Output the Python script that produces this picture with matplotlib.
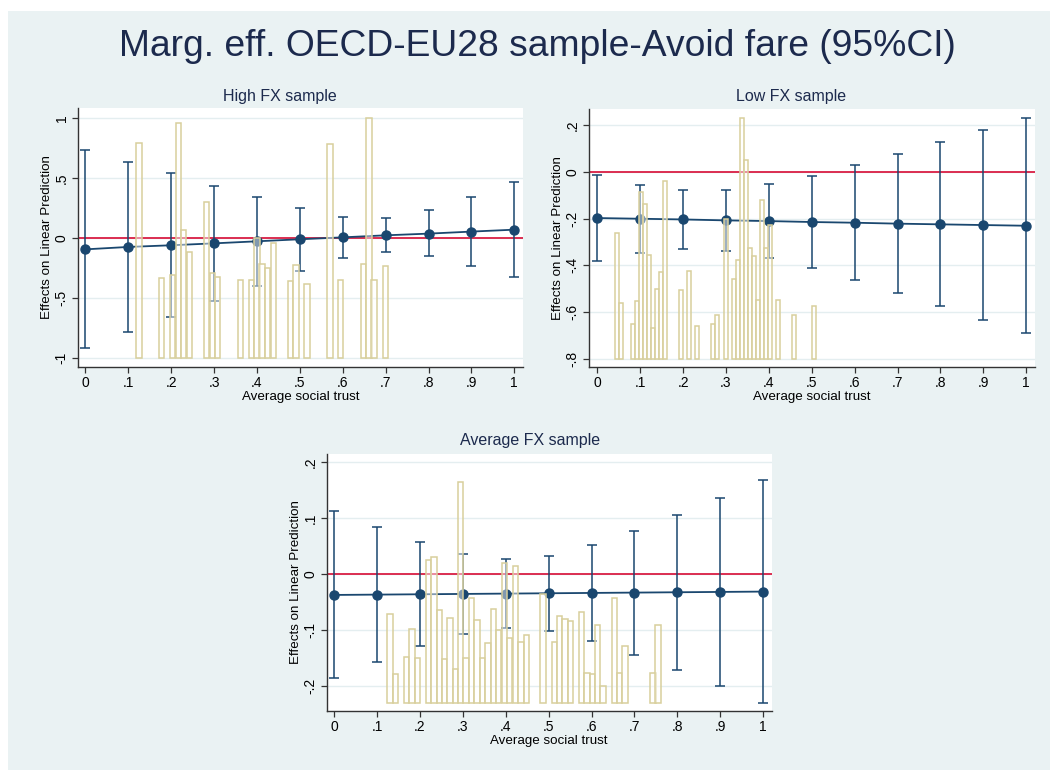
import matplotlib
matplotlib.use("Agg")
import matplotlib.pyplot as plt
import numpy as np
from matplotlib.patches import Rectangle

# ==========================================
# data
# ==========================================
trust = [0, .1, .2, .3, .4, .5, .6, .7, .8, .9, 1]
xtick_labels = ["0", ".1", ".2", ".3", ".4", ".5", ".6", ".7", ".8", ".9", "1"]

# High FX sample
high_est = [-0.092, -0.072, -0.058, -0.042, -0.025, -0.008, 0.008, 0.025, 0.039, 0.056, 0.072]
high_lo = [-0.917, -0.783, -0.653, -0.522, -0.394, -0.272, -0.167, -0.117, -0.150, -0.231, -0.322]
high_hi = [0.739, 0.639, 0.542, 0.439, 0.344, 0.256, 0.181, 0.167, 0.233, 0.344, 0.469]
high_hist_x = [0.125, 0.178, 0.203, 0.2166, 0.229, 0.242, 0.282, 0.296, 0.308, 0.361, 0.387,
               0.400, 0.412, 0.425, 0.439, 0.478, 0.491, 0.517, 0.570, 0.595, 0.649, 0.661,
               0.673, 0.700]
high_hist_top = [0.797, -0.328, -0.306, 0.958, 0.072, -0.114, 0.303, -0.292, -0.325, -0.345,
                 -0.345, 0.005, -0.210, -0.245, -0.039, -0.353, -0.222, -0.381, 0.786, -0.347,
                 -0.217, 1.0, -0.350, -0.228]
high_yticks = [-1, -.5, 0, .5, 1]
high_ylabels = ["-1", "-.5", "0", ".5", "1"]

# Low FX sample
low_est = [-0.197, -0.200, -0.203, -0.207, -0.210, -0.214, -0.217, -0.221, -0.224, -0.227, -0.230]
low_lo = [-0.380, -0.347, -0.329, -0.337, -0.367, -0.411, -0.463, -0.517, -0.574, -0.633, -0.691]
low_hi = [-0.013, -0.054, -0.077, -0.076, -0.053, -0.016, 0.030, 0.079, 0.127, 0.179, 0.231]
low_hist_x = [0.0467, 0.0545, 0.0836, 0.0925, 0.1019, 0.111, 0.1205, 0.1299, 0.1392, 0.1485,
              0.158, 0.196, 0.2145, 0.233, 0.270, 0.2798, 0.2996, 0.319, 0.328, 0.3373,
              0.3466, 0.356, 0.3653, 0.3746, 0.384, 0.3933, 0.4025, 0.4208, 0.459, 0.5055]
low_hist_top = [-0.260, -0.563, -0.653, -0.553, -0.086, -0.137, -0.356, -0.670, -0.503, -0.427,
                -0.039, -0.506, -0.426, -0.659, -0.653, -0.614, -0.199, -0.460, -0.377, 0.230,
                0.050, -0.326, -0.360, -0.550, -0.121, -0.326, -0.227, -0.549, -0.612, -0.573]
low_yticks = [-.8, -.6, -.4, -.2, 0, .2]
low_ylabels = ["-.8", "-.6", "-.4", "-.2", "0", ".2"]

# Average FX sample
avg_est = [-0.0370, -0.0364, -0.0358, -0.0352, -0.0346, -0.0340, -0.0334, -0.0328, -0.0322,
           -0.0316, -0.0310]
avg_lo = [-0.1854, -0.156, -0.129, -0.107, -0.0966, -0.1013, -0.119, -0.1437, -0.171, -0.2003, -0.2307]
avg_hi = [0.1127, 0.084, 0.0584, 0.037, 0.0274, 0.0334, 0.0525, 0.078, 0.1067, 0.137, 0.168]
avg_hist_x = [0.130, 0.1423, 0.169, 0.181, 0.1936, 0.220, 0.2325, 0.2449, 0.2574, 0.2698,
              0.2822, 0.2946, 0.3075, 0.3203, 0.3332, 0.346, 0.3584, 0.3708, 0.3836, 0.3964,
              0.4092, 0.4225, 0.4353, 0.4481, 0.487, 0.513, 0.5255, 0.538, 0.5503, 0.577,
              0.589, 0.6016, 0.614, 0.6265, 0.6528, 0.6653, 0.6778, 0.743, 0.7552]
avg_hist_top = [-0.0704, -0.178, -0.1485, -0.0972, -0.1497, 0.0262, 0.0315, -0.0644, -0.1509,
                -0.0787, -0.170, 0.1656, -0.1503, -0.0424, -0.0817, -0.1503, -0.1234, -0.0626,
                -0.100, 0.0197, -0.1145, 0.0143, -0.1205, -0.109, -0.0347, -0.1217, -0.0751,
                -0.0793, -0.084, -0.0668, -0.177, -0.178, -0.0912, -0.1997, -0.043, -0.177,
                -0.1288, -0.177, -0.0912]
avg_yticks = [-.2, -.1, 0, .1, .2]
avg_ylabels = ["-.2", "-.1", "0", ".1", ".2"]

# ==========================================
# style
# ==========================================
plt.rcParams['font.family'] = ['Liberation Sans', 'DejaVu Sans']
BG = '#eaf2f3'
NAVY = '#1a476f'
TITLE = '#1c2a4d'
SAND = '#d8cf9c'
RED = '#d91e44'

fig = plt.figure(figsize=(10.52, 7.73), dpi=100)
fig.patch.set_facecolor('white')
fig.patches.append(Rectangle((8 / 1052, 3 / 773), 1042 / 1052, 759 / 773,
                             transform=fig.transFigure, facecolor=BG, edgecolor='none', zorder=-5))

fig.text(537 / 1052, 1 - 47 / 773, "Marg. eff. OECD-EU28 sample-Avoid fare (95%CI)",
         ha='center', va='center', fontsize=26.8, color=TITLE)


def panel(rect, title, title_xy, est, lo, hi, hx, htop, hbase, hwidth,
          yticks, ylabels, xlim, ylim):
    ax = fig.add_axes(rect)
    ax.set_facecolor('white')
    for s in ['top', 'right']:
        ax.spines[s].set_visible(False)
    for s in ['left', 'bottom']:
        ax.spines[s].set_color('#333333')
        ax.spines[s].set_linewidth(1.0)

    ax.set_yticks(yticks)
    ax.set_yticklabels(ylabels, rotation=90, va='center')
    ax.set_xticks(trust)
    ax.set_xticklabels(xtick_labels)
    ax.tick_params(direction='out', length=4.5, width=0.9, colors='#333333',
                   labelcolor='black', labelsize=10, pad=2)
    ax.grid(axis='y', color='#e4eef0', linewidth=1.0, zorder=0)
    ax.set_axisbelow(True)

    est = np.array(est)
    ax.axhline(0, color=RED, linewidth=1.3, zorder=2)
    ax.errorbar(trust, est, yerr=[est - np.array(lo), np.array(hi) - est], fmt='none',
                ecolor=NAVY, elinewidth=1.1, capsize=3.5, capthick=1.1, zorder=3)
    ax.plot(trust, est, '-o', color=NAVY, linewidth=1.3, markersize=6.5, zorder=4)

    heights = np.array(htop) - hbase
    ax.bar(hx, heights, width=hwidth, bottom=hbase, facecolor=(1, 1, 1, 0.45),
           edgecolor=SAND, linewidth=1.1, zorder=5)

    ax.set_xlim(xlim)
    ax.set_ylim(ylim)
    ax.set_xlabel("Average social trust", fontsize=9.6)
    ax.xaxis.set_label_coords(0.5, -0.093)
    ax.set_ylabel("Effects on Linear Prediction", fontsize=9.6)
    ax.yaxis.set_label_coords(-0.055, 0.5)

    fig.text(title_xy[0] / 1052, 1 - title_xy[1] / 773, title, ha='center', va='center',
             fontsize=11.5, color=TITLE)
    return ax


panel([77.7 / 1052, 1 - 366.7 / 773, 445.3 / 1052, 258.7 / 773], "High FX sample", (280, 96),
      high_est, high_lo, high_hi, high_hist_x, high_hist_top, -1.0, 0.0124,
      high_yticks, high_ylabels, (-0.018, 1.0203), (-1.07, 1.086))

panel([588.7 / 1052, 1 - 366.7 / 773, 446.3 / 1052, 257.4 / 773], "Low FX sample", (791, 96),
      low_est, low_lo, low_hi, low_hist_x, low_hist_top, -0.8, 0.0093,
      low_yticks, low_ylabels, (-0.02, 1.0203), (-0.834, 0.269))

panel([326.7 / 1052, 1 - 711 / 773, 445 / 1052, 257 / 773], "Average FX sample", (530, 440),
      avg_est, avg_lo, avg_hi, avg_hist_x, avg_hist_top, -0.23, 0.0126,
      avg_yticks, avg_ylabels, (-0.0177, 1.02), (-0.2445, 0.215))

fig.savefig("out.png", dpi=100, facecolor=fig.get_facecolor())
